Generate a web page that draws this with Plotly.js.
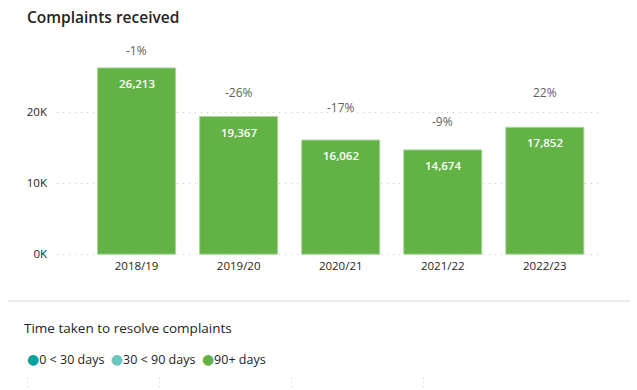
<!DOCTYPE html>
<html><head><meta charset="utf-8">
<script src="https://cdn.plot.ly/plotly-3.0.1.min.js"></script>
<style>html,body{margin:0;padding:0;background:#fff;} #chart{width:637px;height:390px;}</style>
</head><body><div id="chart"></div>
<script>
const years = ['2018/19','2019/20','2020/21','2021/22','2022/23'];
const complaints = [26213, 19367, 16062, 14674, 17852];
const changeText = ['-1%','-26%','-17%','-9%','22%'];
const changeLabelLevel = [28700, 22800, 20700, 18700, 22800];
const yTickVals = [0, 10000, 20000];
const yTickText = ['0K','10K','20K'];
const resolveBands = ['0 < 30 days','30 < 90 days','90+ days'];
const resolveColors = ['#01A39A','#6CC6BD','#62B246'];

const FONT = '"Open Sans", "Noto Sans", sans-serif';
const H = 390, W = 637;
const py = p => (H - p) / H;
const px = p => p / W;

const traces = [{
  type: 'bar', x: years, y: complaints,
  marker: {color: '#62B246', line: {color: '#A9D69B', width: 1}},
  hoverinfo: 'skip', showlegend: false, xaxis: 'x', yaxis: 'y'
}, {
  type: 'scatter', mode: 'markers', x: [null], y: [null], showlegend: false,
  xaxis: 'x2', yaxis: 'y2', hoverinfo: 'skip'
}];

const annotations = [];
years.forEach((yr, i) => {
  annotations.push({x: yr, y: complaints[i], xref: 'x', yref: 'y', text: complaints[i].toLocaleString('en-US'),
    showarrow: false, yanchor: 'top', yshift: -6, font: {family: FONT, size: 11.5, weight: 600, color: '#FFFFFF'}});
  annotations.push({x: yr, y: changeLabelLevel[i], xref: 'x', yref: 'y', text: changeText[i],
    showarrow: false, yanchor: 'middle', font: {family: FONT, size: 12, color: '#605E5C'}});
});
annotations.push({xref: 'paper', yref: 'paper', x: px(22), y: py(328), xanchor: 'left', yanchor: 'middle',
  text: 'Time taken to resolve complaints', showarrow: false, font: {family: FONT, size: 13.5, color: '#252423'}});
const legendText = resolveBands.map((b, i) =>
  '<span style="font-family:DejaVu Sans;font-size:14px;color:' + resolveColors[i] + '">\u25CF</span>' + b).join('&nbsp;&nbsp;');
annotations.push({xref: 'paper', yref: 'paper', x: px(25), y: py(359), xanchor: 'left', yanchor: 'middle',
  text: legendText, showarrow: false, font: {family: FONT, size: 12.5, color: '#252423'}});

const layout = {
  width: W, height: H, margin: {l: 0, r: 0, t: 0, b: 0},
  paper_bgcolor: '#FFFFFF', plot_bgcolor: '#FFFFFF',
  font: {family: FONT, color: '#605E5C', size: 12},
  title: {text: 'Complaints received', x: px(27), xanchor: 'left', y: py(18), yanchor: 'middle',
    font: {family: FONT, size: 15.5, weight: 600, color: '#252423'}},
  bargap: 0.235,
  xaxis: {domain: [px(57), px(603)], range: [-0.78, 4.57], type: 'category', showgrid: false, zeroline: false,
    showline: false, ticks: '', tickfont: {family: FONT, size: 11.5, color: '#252423'}, fixedrange: true},
  yaxis: {domain: [py(257), py(40)], range: [-400, 30140], tickvals: yTickVals, ticktext: yTickText,
    showgrid: true, gridcolor: '#C8C6C4', griddash: '1px,5px', gridwidth: 1, zeroline: false, showline: false,
    ticks: '', ticklabelstandoff: 9, tickfont: {family: FONT, size: 11.5, color: '#252423'}, fixedrange: true},
  xaxis2: {domain: [0, 1], range: [-0.212, 4.614], anchor: 'y2', tickvals: [0,1,2,3], showticklabels: false,
    showgrid: true, gridcolor: '#D2D0CE', griddash: '1px,3px', zeroline: false, showline: false, ticks: ''},
  yaxis2: {domain: [py(388), py(378)], anchor: 'x2', range: [0, 1], showgrid: false, showticklabels: false,
    zeroline: false, showline: false, ticks: ''},
  showlegend: false,
  shapes: [{type: 'line', xref: 'paper', yref: 'paper', x0: px(8), x1: px(630), y0: py(301), y1: py(301),
    line: {color: '#EDEBE9', width: 2}}],
  annotations: annotations
};

Plotly.newPlot('chart', traces, layout, {displayModeBar: false, staticPlot: true});
</script></body></html>
